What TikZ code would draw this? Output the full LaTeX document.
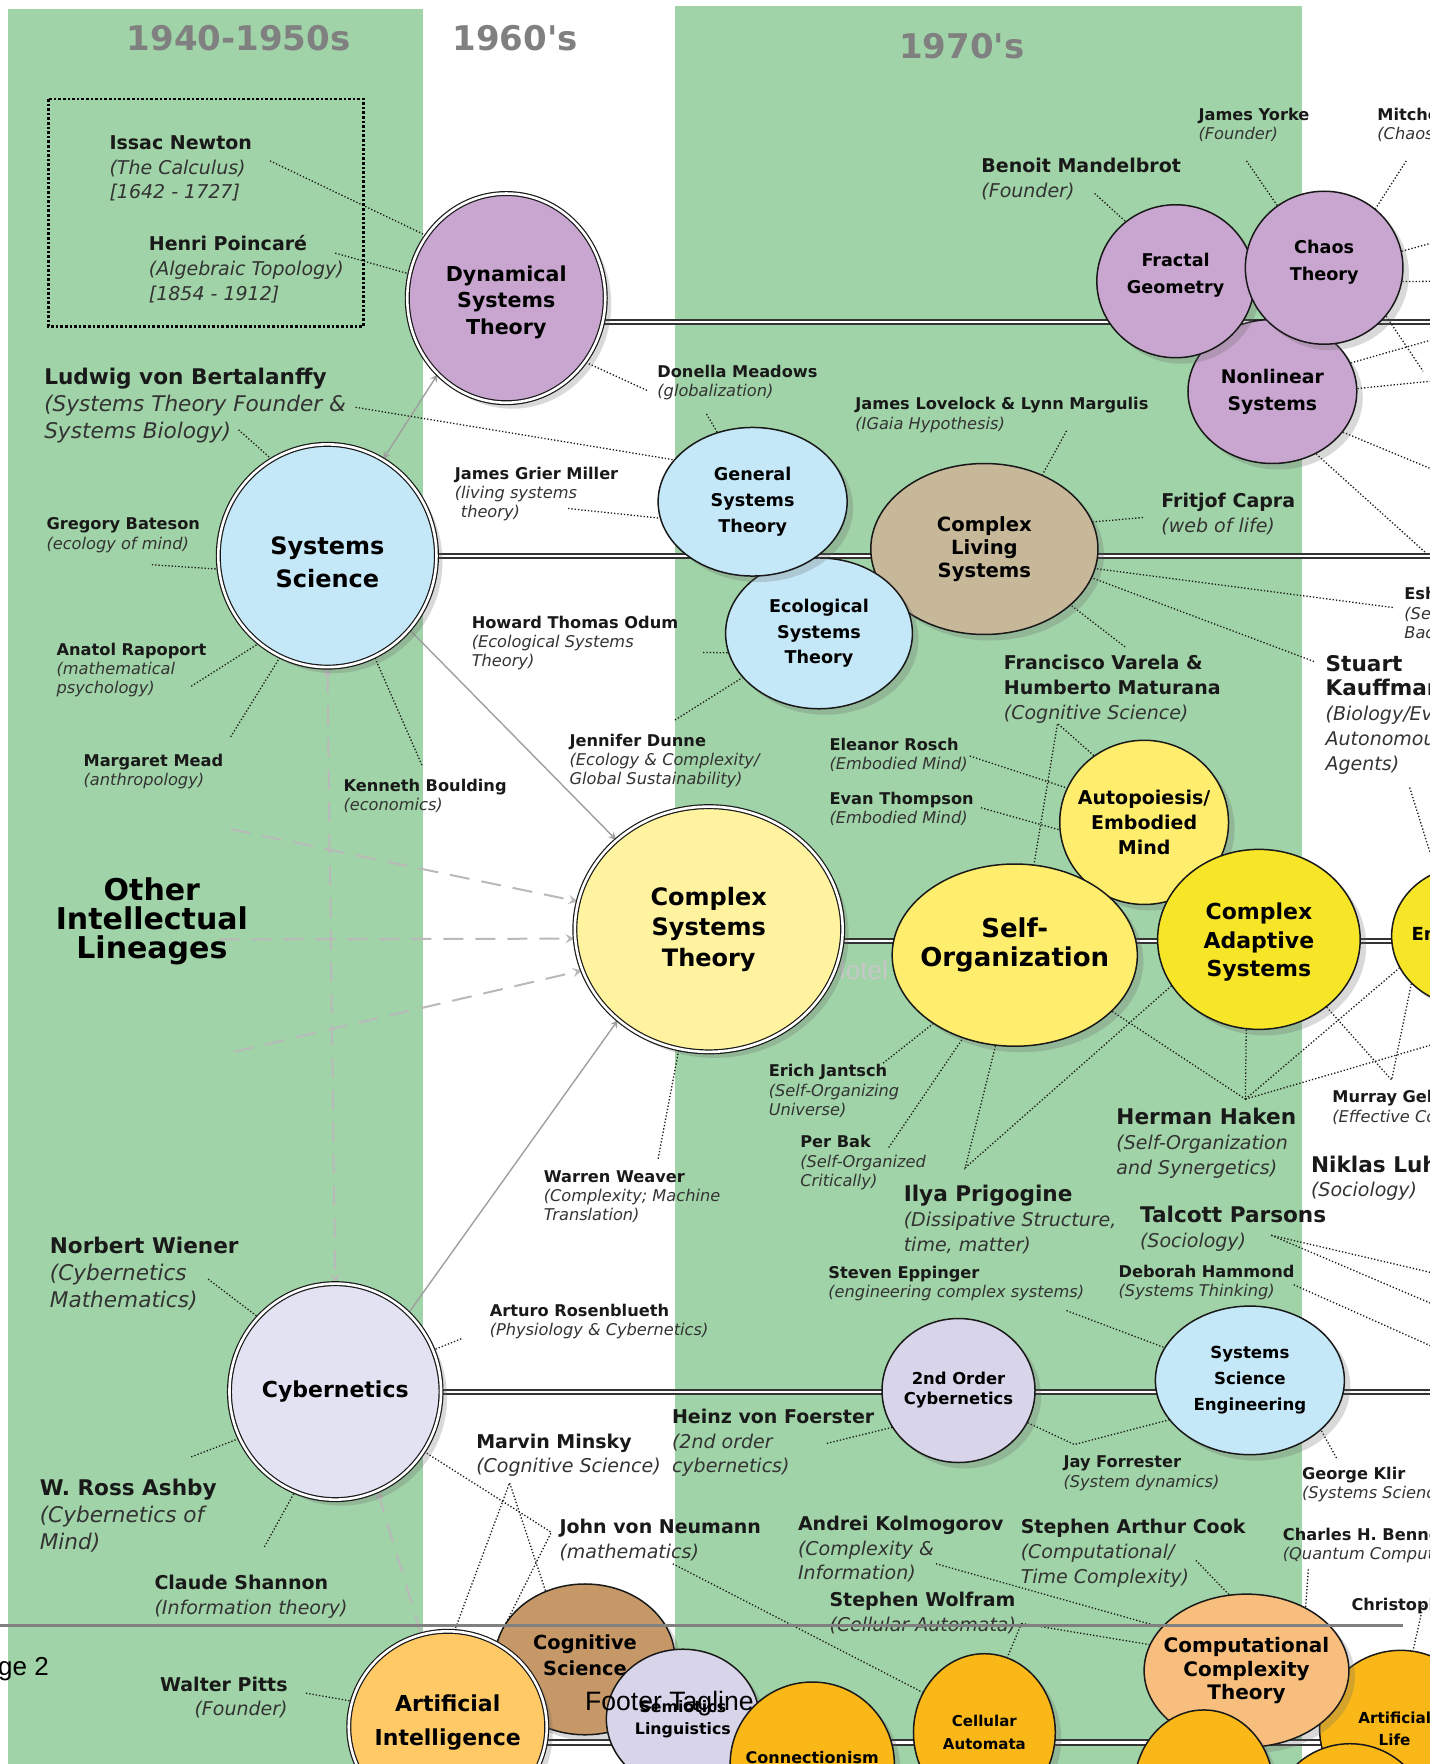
\documentclass[tikz,border=0pt]{standalone}
\usepackage{fontspec}
\setmainfont{DejaVu Sans}
\newfontfamily\footfont{Liberation Sans}
\usetikzlibrary{shapes.geometric,shadows,backgrounds}

\definecolor{colgreen}{RGB}{160,211,167}
\definecolor{headgray}{RGB}{128,128,128}
\definecolor{dstpurple}{RGB}{201,166,207}
\definecolor{sysblue}{RGB}{197,232,248}
\definecolor{cstyellow}{RGB}{255,243,160}
\definecolor{soyellow}{RGB}{255,238,110}
\definecolor{casyellow}{RGB}{247,230,40}
\definecolor{cyblav}{RGB}{226,226,242}
\definecolor{soclav}{RGB}{216,213,234}
\definecolor{clstan}{RGB}{200,184,154}
\definecolor{cogbrown}{RGB}{198,152,104}
\definecolor{aiorange}{RGB}{255,202,102}
\definecolor{caorange}{RGB}{250,184,24}
\definecolor{cctorange}{RGB}{247,190,125}

\newcommand{\bsz}[2]{\fontsize{#1}{#2}\selectfont\bfseries}
\newcommand{\who}[1]{\textbf{#1}}
\newcommand{\whobig}[1]{{\fontsize{10.8}{13}\selectfont\bfseries #1}}
\newcommand{\what}[1]{{\itshape\color{black!80}#1}}

\tikzset{
  bub/.style={ellipse, draw=black!90, line width=0.75pt, inner sep=0pt,
    drop shadow={opacity=0.25, fill=black!60, shadow xshift=3pt, shadow yshift=-3pt}},
  major/.style={bub, double=white, double distance=1.3pt, line width=0.6pt},
  btext/.style={align=center, inner sep=0pt},
  lab/.style={anchor=north west, align=left, inner sep=0pt, text=black!90},
  sm/.style={lab, font=\fontsize{8.1}{9.6}\selectfont},
  md/.style={lab, font=\fontsize{9.5}{12.4}\selectfont},
  lg/.style={lab, font=\fontsize{10.8}{13.5}\selectfont},
  head/.style={font=\bsz{17}{20}, text=headgray},
  conn/.style={densely dotted, line width=0.65pt, black!90},
  track/.style={draw=black!80, line width=1pt, double=white, double distance=1.1pt},
  garrow/.style={gray!75, line width=0.7pt},
  gdash/.style={gray!55, line width=1pt, dash pattern=on 10pt off 6pt}
}

\begin{document}
\begin{tikzpicture}[x=0.5625pt, y=-0.5625pt, >=stealth]
\useasboundingbox (0,0) rectangle (1271,1568);

% decade columns
\begin{scope}[on background layer]
\fill[colgreen] (7,8) rectangle (376,1568);
\fill[colgreen] (600,5) rectangle (1157,1568);
\end{scope}

\path
(212,34) node[head] (h40) {1940-1950s}
(458,34) node[head] (h60) {1960\textquotesingle s}
(855,41) node[head] (h70) {1970\textquotesingle s};

\draw[densely dotted, line width=1.3pt] (43,88) rectangle (323,290);

% bubbles
\node[bub, fill=dstpurple, minimum width=84.4pt, minimum height=72pt, label={[btext, font=\bsz{9.4}{13.5}]center:Nonlinear\\Systems}] (nonlin) at (1131,348) {};
\node[bub, fill=dstpurple, minimum width=78.8pt, minimum height=76.5pt, label={[btext, font=\bsz{8.8}{13.5}, yshift=3pt]center:Fractal\\Geometry}] (fractal) at (1045,250) {};
\node[bub, fill=dstpurple, minimum width=78.8pt, minimum height=76.5pt, label={[btext, font=\bsz{8.8}{13.5}, yshift=3pt]center:Chaos\\Theory}] (chaos) at (1177,238) {};
\node[major, fill=dstpurple, minimum width=99pt, minimum height=104.6pt, label={[btext, font=\bsz{10.3}{13.2}, yshift=-2pt]center:Dynamical\\Systems\\Theory}] (dst) at (450,265) {};
\node[bub, fill=clstan, minimum width=113.6pt, minimum height=85.5pt, label={[btext, font=\bsz{9.8}{11.5}]center:Complex\\Living\\Systems}] (cls) at (875,488) {};
\node[bub, fill=sysblue, minimum width=93.4pt, minimum height=75.4pt, label={[btext, font=\bsz{8.8}{12.8}]center:Ecological\\Systems\\Theory}] (est) at (728,563) {};
\node[bub, fill=sysblue, minimum width=94.5pt, minimum height=74.3pt, label={[btext, font=\bsz{8.8}{12.8}]center:General\\Systems\\Theory}] (gst) at (669,446) {};
\node[major, fill=sysblue, minimum width=109.1pt, minimum height=111.4pt, label={[btext, font=\bsz{12}{16.3}, yshift=-3.4pt]center:Systems\\Science}] (ss) at (291,494) {};
\node[major, fill=cstyellow, minimum width=133.9pt, minimum height=122.6pt, label={[btext, font=\bsz{12}{15.2}]center:Complex\\Systems\\Theory}] (cst) at (630,826) {};
\node[bub, fill=soyellow, minimum width=84.4pt, minimum height=82.1pt, label={[btext, font=\bsz{9.5}{12.7}]center:Autopoiesis/\\Embodied\\Mind}] (auto) at (1017,731) {};
\node[bub, fill=soyellow, minimum width=122.6pt, minimum height=91.1pt, label={[btext, font=\bsz{13}{14.6}, yshift=5pt]center:Self-\\Organization}] (selforg) at (902,849) {};
\node[bub, fill=casyellow, minimum width=101.3pt, minimum height=90pt, label={[btext, font=\bsz{11}{14.3}, yshift=-1.5pt]center:Complex\\Adaptive\\Systems}] (cas) at (1119,835) {};
\node[bub, fill=casyellow, minimum width=76.5pt, minimum height=69.8pt, label={[btext, font=\bsz{9}{11}]center:Emergence}] (emerg) at (1305,832) {};
\node[major, fill=cyblav, minimum width=105.8pt, minimum height=108pt, label={[btext, font=\bsz{11}{13}]center:Cybernetics}] (cyb) at (298,1237) {};
\node[bub, fill=soclav, minimum width=76.5pt, minimum height=72pt, label={[btext, font=\bsz{8.2}{10}]center:2nd Order\\Cybernetics}] (soc) at (852,1236) {};
\node[bub, fill=sysblue, minimum width=94.5pt, minimum height=74.3pt, label={[btext, font=\bsz{8.3}{13}]center:Systems\\Science\\Engineering}] (sse) at (1111,1227) {};
\node[bub, fill=cogbrown, minimum width=90pt, minimum height=75.4pt, label={[btext, font=\bsz{9.7}{13}, yshift=2pt]center:Cognitive\\Science}] (cogsci) at (520,1475) {};
\node[major, fill=aiorange, minimum width=99pt, minimum height=95.6pt, label={[btext, font=\bsz{11}{17}, yshift=2pt]center:Artificial\\Intelligence}] (ai) at (398,1535) {};
\node[bub, fill=soclav, minimum width=76.5pt, minimum height=69.8pt, label={[btext, font=\bsz{7.9}{10.7}]center:Semiotics\\Linguistics}] (semio) at (607,1528) {};
\node[bub, fill=caorange, minimum width=82.1pt, minimum height=82pt, label={[btext, font=\bsz{8}{10}, yshift=3pt]center:Connectionism}] (conn) at (722,1568) {};
\node[bub, fill=caorange, minimum width=70.9pt, minimum height=78.8pt, label={[btext, font=\bsz{7.5}{11.3}]center:Cellular\\Automata}] (ca) at (875,1540) {};
\node[bub, fill=caorange, minimum width=81pt, minimum height=78.8pt, label={[btext, font=\bsz{7.6}{11}, xshift=-3pt]center:Artificial\\Life}] (alife) at (1245,1537) {};
\node[bub, fill=cctorange, minimum width=102.4pt, minimum height=76.5pt, label={[btext, font=\bsz{10}{11.8}]center:Computational\\Complexity\\Theory}] (cct) at (1108,1485) {};
\node[bub, fill=caorange, minimum width=78.8pt, minimum height=78.8pt] (alife2) at (1200,1620) {};
\node[bub, fill=caorange, minimum width=69.8pt, minimum height=78.8pt] (cct2) at (1070,1590) {};

% people
\path
(97,120) node[md] (newton) {\who{Issac Newton}\\\what{(The Calculus)}\\\what{[1642 - 1727]}}
(132,209) node[md] (poincare) {\who{Henri Poincaré}\\\what{(Algebraic Topology)}\\\what{[1854 - 1912]}}
(39,327) node[lg] (bertalanffy) {\who{Ludwig von Bertalanffy}\\\what{(Systems Theory Founder \&}\\\what{Systems Biology)}}
(41,460) node[sm] (bateson) {\who{Gregory Bateson}\\\what{(ecology of mind)}}
(50,571) node[sm] (rapoport) {\who{Anatol Rapoport}\\\what{(mathematical}\\\what{psychology)}}
(74,670) node[sm] (mead) {\who{Margaret Mead}\\\what{(anthropology)}}
(305,692) node[sm] (boulding) {\who{Kenneth Boulding}\\\what{(economics)}}
(135,819) node[font=\bsz{15}{14.5}, align=center] (lineages) {Other\\Intellectual\\Lineages}
(44,1099) node[lg] (wiener) {\who{Norbert Wiener}\\\what{(Cybernetics}\\\what{Mathematics)}}
(35,1314) node[lg] (ashby) {\who{W. Ross Ashby}\\\what{(Cybernetics of}\\\what{Mind)}}
(137,1400) node[md] (shannon) {\who{Claude Shannon}\\\what{(Information theory)}}
(256,1490) node[md, anchor=north east, align=right] (pitts) {\who{Walter Pitts}\\\what{(Founder)}}
(584,324) node[sm] (meadows) {\who{Donella Meadows}\\\what{(globalization)}}
(404,415) node[sm] (miller) {\who{James Grier Miller}\\\what{(living systems}\\\hspace{3pt}\what{theory)}}
(419,547) node[sm] (odum) {\who{Howard Thomas Odum}\\\what{(Ecological Systems}\\\what{Theory)}}
(506,652) node[sm] (dunne) {\who{Jennifer Dunne}\\\what{(Ecology \& Complexity/}\\\what{Global Sustainability)}}
(483,1040) node[sm] (weaver) {\who{Warren Weaver}\\\what{(Complexity; Machine}\\\what{Translation)}}
(435,1159) node[sm] (rosenblueth) {\who{Arturo Rosenblueth}\\\what{(Physiology \& Cybernetics)}}
(423,1274) node[md] (minsky) {\who{Marvin Minsky}\\\what{(Cognitive Science)}}
(597,1252) node[md] (foerster) {\who{Heinz von Foerster}\\\what{(2nd order}\\\what{cybernetics)}}
(497,1350) node[md] (neumann) {\who{John von Neumann}\\\what{(mathematics)}}
(872,140) node[md] (mandelbrot) {\who{Benoit Mandelbrot}\\\what{(Founder)}}
(1065,96) node[sm] (yorke) {\who{James Yorke}\\\what{(Founder)}}
(1224,96) node[sm] (feigenbaum) {\who{Mitchell Feigenbaum}\\\what{(Chaos Theory)}}
(760,353) node[sm] (lovelock) {\who{James Lovelock \& Lynn Margulis}\\\what{(IGaia Hypothesis)}}
(1032,438) node[md] (capra) {\who{Fritjof Capra}\\\what{(web of life)}}
(892,582) node[md] (varela) {\who{Francisco Varela \&}\\\who{Humberto Maturana}\\\what{(Cognitive Science)}}
(1248,522) node[sm] (benjacob) {\who{Eshel Ben-Jacob}\\\what{(Self-Organizing}\\\what{Bacteria)}}
(1178,582) node[md] (kauffman) {\whobig{Stuart}\\\whobig{Kauffman}\\\what{(Biology/Evolution;}\\\what{Autonomous}\\\what{Agents)}}
(737,656) node[sm] (rosch) {\who{Eleanor Rosch}\\\what{(Embodied Mind)}}
(737,704) node[sm] (thompson) {\who{Evan Thompson}\\\what{(Embodied Mind)}}
(683,946) node[sm] (jantsch) {\who{Erich Jantsch}\\\what{(Self-Organizing}\\\what{Universe)}}
(711,1009) node[sm] (bak) {\who{Per Bak}\\\what{(Self-Organized}\\\what{Critically)}}
(803,1053) node[md] (prigogine) {\whobig{Ilya Prigogine}\\\what{(Dissipative Structure,}\\\what{time, matter)}}
(992,985) node[md] (haken) {\whobig{Herman Haken}\\\what{(Self-Organization}\\\what{and Synergetics)}}
(1184,969) node[sm] (gellmann) {\who{Murray Gell-Mann}\\\what{(Effective Complexity)}}
(1165,1027) node[md] (luhmann) {\whobig{Niklas Luhmann}\\\what{(Sociology)}}
(1013,1072) node[md] (parsons) {\whobig{Talcott Parsons}\\\what{(Sociology)}}
(736,1125) node[sm] (eppinger) {\who{Steven Eppinger}\\\what{(engineering complex systems)}}
(994,1124) node[sm] (hammond) {\who{Deborah Hammond}\\\what{(Systems Thinking)}}
(945,1294) node[sm] (forrester) {\who{Jay Forrester}\\\what{(System dynamics)}}
(1157,1304) node[sm] (klir) {\who{George Klir}\\\what{(Systems Science)}}
(709,1347) node[md] (kolmogorov) {\who{Andrei Kolmogorov}\\\what{(Complexity \&}\\\what{Information)}}
(907,1350) node[md] (cook) {\who{Stephen Arthur Cook}\\\what{(Computational/}\\\what{Time Complexity)}}
(1140,1358) node[sm] (bennett) {\who{Charles H. Bennett}\\\what{(Quantum Computing)}}
(737,1415) node[md] (wolfram) {\who{Stephen Wolfram}\\\what{(Cellular Automata)}}
(1201,1420) node[sm] (langton) {\who{Christopher Langton}};

% connector ends
\path
(240,143) coordinate (newton-c) (298,225) coordinate (poincare-c)
(212,382) coordinate (bertalanffy-c) (316,362) coordinate (bertalanffy-d)
(135,502) coordinate (bateson-c) (170,610) coordinate (rapoport-c)
(205,655) coordinate (mead-c) (375,680) coordinate (boulding-c)
(185,1137) coordinate (wiener-c) (170,1295) coordinate (ashby-c)
(235,1375) coordinate (shannon-c) (272,1505) coordinate (pitts-c)
(575,347) coordinate (meadows-c) (628,368) coordinate (meadows-d)
(505,452) coordinate (miller-c) (625,580) coordinate (odum-c)
(600,640) coordinate (dunne-c) (585,1030) coordinate (weaver-c)
(410,1190) coordinate (rosenblueth-c) (453,1318) coordinate (minsky-c)
(490,1362) coordinate (cross-c) (735,1283) coordinate (foerster-c)
(598,1390) coordinate (neumann-c) (973,172) coordinate (mandelbrot-c)
(1108,143) coordinate (yorke-c) (1250,143) coordinate (feigenbaum-c)
(948,383) coordinate (lovelock-c) (1016,460) coordinate (capra-c)
(1000,575) coordinate (varela-c) (940,643) coordinate (varela-d)
(1238,540) coordinate (benjacob-c) (1168,588) coordinate (kauffman-c)
(1253,700) coordinate (kauffman-d) (862,672) coordinate (rosch-c)
(872,718) coordinate (thompson-c) (785,945) coordinate (jantsch-c)
(790,1020) coordinate (bak-c) (858,1038) coordinate (prigogine-c)
(1107,977) coordinate (haken-c) (1237,960) coordinate (gellmann-c)
(1130,1098) coordinate (parsons-c) (1150,1142) coordinate (hammond-c)
(948,1165) coordinate (eppinger-c) (955,1284) coordinate (forrester-c)
(1188,1296) coordinate (klir-c) (832,1390) coordinate (kolmogorov-c)
(1063,1387) coordinate (cook-c) (1163,1395) coordinate (bennett-c)
(908,1443) coordinate (wolfram-c) (1265,1427) coordinate (langton-c)
(205,737) coordinate (lin-a) (195,835) coordinate (lin-b) (208,935) coordinate (lin-c)
(1300,0) coordinate (edge)
(1280,214) coordinate (r1) (1280,250) coordinate (r2) (1265,330) coordinate (r3)
(1280,300) coordinate (r4) (1280,338) coordinate (r5) (1280,420) coordinate (r6)
(1268,492) coordinate (r7) (1275,770) coordinate (r8) (1275,928) coordinate (r9)
(1280,1133) coordinate (r10) (1280,1162) coordinate (r11) (1280,1200) coordinate (r12);

\begin{scope}[on background layer]
% lineage tracks
\draw[track] (dst.-14) -- (dst.-14 -| edge);
\draw[track] (ss.0) -- (ss.0 -| edge);
\draw[track] (cst.-5) -- (cst.-5 -| edge);
\draw[track] (cyb.0) -- (cyb.0 -| edge);
\draw[track] (ai.-9) -- (ai.-9 -| edge);
\node[anchor=west, font=\footfont\fontsize{13}{15}\selectfont, text=black!22] (hotel) at (729,862) {Hotel S};

% influence arrows
\draw[garrow, <->] (ss.60) -- (dst.228);
\draw[garrow, ->] (ss.318) -- (cst.136);
\draw[garrow, ->] (cyb.47) -- (cst.225);
\draw[gdash, <->] (ss.270) -- (cyb.90);
\draw[gdash, ->] (lin-a) -- (cst.168);
\draw[gdash, ->] (lin-b) -- (cst.184);
\draw[gdash, ->] (lin-c) -- (cst.198);
\draw[gdash, ->] (ai.106) -- (cyb.293);

% people to fields
\draw[conn] (newton-c) -- (dst.142);
\draw[conn] (poincare-c) -- (dst.166);
\draw[conn] (meadows-c) -- (dst.-39);
\draw[conn] (meadows-d) -- (gst.117);
\draw[conn] (bertalanffy-c) -- (ss.120);
\draw[conn] (bertalanffy-d) -- (gst.152);
\draw[conn] (miller-c) -- (gst.190);
\draw[conn] (bateson-c) -- (ss.187);
\draw[conn] (rapoport-c) -- (ss.232);
\draw[conn] (mead-c) -- (ss.245);
\draw[conn] (boulding-c) -- (ss.295);
\draw[conn] (odum-c) -- (est.192);
\draw[conn] (dunne-c) -- (est.210);
\draw[conn] (lovelock-c) -- (cls.52);
\draw[conn] (capra-c) -- (cls.14);
\draw[conn] (varela-c) -- (cls.-33);
\draw[conn] (benjacob-c) -- (cls.-10);
\draw[conn] (kauffman-c) -- (cls.-15);
\draw[conn] (kauffman-d) -- (r8);
\draw[conn] (mandelbrot-c) -- (fractal.130);
\draw[conn] (yorke-c) -- (chaos.127);
\draw[conn] (feigenbaum-c) -- (chaos.49);
\draw[conn] (chaos.12) -- (r1);
\draw[conn] (chaos.-10) -- (r2);
\draw[conn] (chaos.-38) -- (r3);
\draw[conn] (nonlin.20) -- (r4);
\draw[conn] (nonlin.2) -- (r5);
\draw[conn] (nonlin.-30) -- (r6);
\draw[conn] (nonlin.-55) -- (r7);
\draw[conn] (auto.127) -- (varela-d) -- (selforg.78);
\draw[conn] (rosch-c) -- (auto.156);
\draw[conn] (thompson-c) -- (auto.185);
\draw[conn] (jantsch-c) -- (selforg.220);
\draw[conn] (bak-c) -- (selforg.238);
\draw[conn] (selforg.258) -- (prigogine-c) -- (cas.208);
\draw[conn] (selforg.330) -- (haken-c) -- (cas.262);
\draw[conn] (haken-c) -- (emerg.205);
\draw[conn] (haken-c) -- (r9);
\draw[conn] (cas.-45) -- (gellmann-c) -- (emerg.220);
\draw[conn] (parsons-c) -- (r10);
\draw[conn] (parsons-c) -- (r11);
\draw[conn] (hammond-c) -- (r12);
\draw[conn] (weaver-c) -- (cst.256);
\draw[conn] (eppinger-c) -- (sse.159);
\draw[conn] (soc.-25) -- (forrester-c) -- (sse.206);
\draw[conn] (klir-c) -- (sse.-35);
\draw[conn] (foerster-c) -- (soc.209);
\draw[conn] (rosenblueth-c) -- (cyb.23);
\draw[conn] (wiener-c) -- (cyb.136);
\draw[conn] (ashby-c) -- (cyb.206);
\draw[conn] (shannon-c) -- (cyb.248);
\draw[conn] (cyb.-34) -- (cross-c) -- (ai.60);
\draw[conn] (ai.86) -- (minsky-c) -- (cogsci.120);
\draw[conn] (neumann-c) -- (ca.147);
\draw[conn] (kolmogorov-c) -- (cct.153);
\draw[conn] (cook-c) -- (cct.103);
\draw[conn] (wolfram-c) -- (cct.165);
\draw[conn] (wolfram-c) -- (ca.73);
\draw[conn] (bennett-c) -- (cct.47);
\draw[conn] (langton-c) -- (alife.81);
\draw[conn] (pitts-c) -- (ai.165);
\end{scope}

% page footer
\draw[headgray, line width=1.7pt] (0,1445) -- (1247,1445);
\node[anchor=west, inner sep=0pt, font=\footfont\fontsize{13}{15}\selectfont] (pageno) at (-2,1484) {ge 2};
\node[font=\footfont\fontsize{13.3}{15}\selectfont] (tagline) at (595,1514) {Footer Tagline};
\end{tikzpicture}
\end{document}
